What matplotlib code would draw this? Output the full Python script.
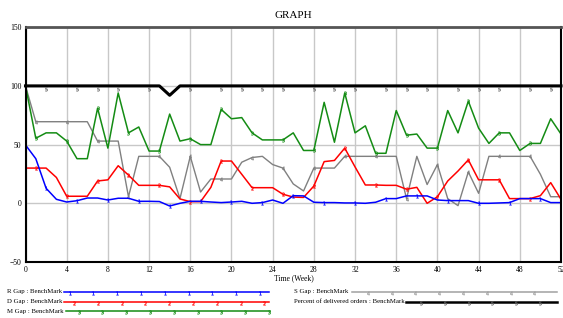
import numpy as np
import matplotlib.pyplot as plt
import matplotlib.transforms as mtransforms
from matplotlib.lines import Line2D

plt.rcParams['font.family'] = ['Liberation Serif', 'DejaVu Serif']

# ======================
# Data
# ======================
weeks = np.arange(0, 53)

r_gap = [49.7, 38, 12.8, 3.4, 1.1, 2.2, 4.5, 4.5, 2.8, 4.3, 4.3,
         1.7, 1.7, 1.5, -2.3, 0, 1.7, 1.7, 1.1, 0.6, 1.1,
         1.7, 0, 0.6, 2.8, 0, 6.5, 6.3, 0.9, 0.6, 0.6,
         0.3, 0.3, 0, 0.9, 4, 4, 6.3, 6.3, 6.3, 2.8,
         2.3, 2.3, 2.3, 0, 0, 0.3, 0.6, 4, 4, 4, 0.6, 0.6]

d_gap = [30, 30, 30, 22, 6, 6, 6, 19, 20, 32, 24,
         15.3, 15.3, 15.3, 14, 3.7, 1.4, 1.4, 13.6, 36, 36,
         24.7, 13.3, 13.3, 13.3, 7.7, 5.3, 5, 14.7, 35.5, 36.5,
         47, 31, 15.6, 15.6, 15.3, 15.3, 12, 13.6, 0, 5.6,
         19, 27.5, 37, 20, 20, 20, 4, 4, 4, 6.5, 17.6, 3.4]

m_gap = [100, 55.4, 60, 60, 53, 38, 38, 81, 47, 94, 60,
         65, 44.5, 44.5, 76, 53, 55, 50, 50, 80, 72,
         73, 60, 54, 54, 54, 60, 45, 45, 86, 52,
         94, 60, 66, 42.6, 42.6, 79, 58, 59, 47, 47,
         79, 60, 87, 64, 51, 60, 60, 45, 51, 51, 72, 59]

s_gap = [100, 69.5, 69.5, 69.5, 69.5, 69.5, 69.5, 53, 53, 53, 5.6,
         40, 40, 40, 30.7, 4, 40, 9.6, 20.7, 20.7, 20.7,
         35, 39, 40, 33, 30, 16.5, 10.5, 30, 30, 30,
         40, 40, 40, 40, 40, 40, 4, 40, 16, 33,
         4, -2, 26.7, 8.5, 40, 40, 40, 40, 40, 24.7, 5.6, 5.6]

delivered = [100] * 14 + [92] + [100] * 38

x_ticks = list(range(0, 53, 4))
y_ticks = [-50, 0, 50, 100, 150]

labels = ['R Gap : BenchMark', 'D Gap : BenchMark', 'M Gap : BenchMark',
          'S Gap : BenchMark', 'Percent of delivered orders : BenchMark']

# ======================
# Figure / axes
# ======================
W, H = 563, 318
fig = plt.figure(figsize=(W / 100, H / 100), dpi=100)

def px(x, y):
    return x / W, 1 - y / H

ax_l, ax_r, ax_t, ax_b = 25.5, 561, 27.2, 262
ax = fig.add_axes([ax_l / W, 1 - ax_b / H, (ax_r - ax_l) / W, (ax_b - ax_t) / H])
ax.set_xlim(0, 52)
ax.set_ylim(-50, 150)
ax.set_xticks(x_ticks)
ax.set_yticks(y_ticks)
ax.tick_params(length=0, labelsize=5.5, pad=3)
ax.grid(True, color='#c8c8c8', lw=1)
ax.set_axisbelow(True)
for side in ['left', 'bottom', 'right']:
    ax.spines[side].set_color('black')
    ax.spines[side].set_linewidth(1.5)
ax.spines['top'].set_color('#555555')
ax.spines['top'].set_linewidth(2)

mk = 2.6
ax.plot(weeks, s_gap, color='#808080', lw=1.0, marker='$4$', ms=mk, mew=0.2, markevery=(1, 3))
ax.plot(weeks, m_gap, color='#148c14', lw=1.1, marker='$3$', ms=mk, mew=0.2, markevery=(1, 3))
ax.plot(weeks, d_gap, color='#ff0000', lw=1.1, marker='$2$', ms=mk, mew=0.2, markevery=(1, 3))
ax.plot(weeks, r_gap, color='#0000ff', lw=1.1, marker='$1$', ms=mk, mew=0.2, markevery=(2, 3))
ax.plot(weeks, delivered, color='black', lw=2.2, clip_on=False)

# "5" labels sit just below the thick black line
below = mtransforms.offset_copy(ax.transData, fig=fig, y=-2.5, units='points')
five_at = [2, 5, 7, 9, 12, 16, 19, 21, 23, 25, 28, 30, 32, 35, 37, 39, 42, 44, 46, 49, 51]
ax.plot(weeks, delivered, ls='none', color='#666666', marker='$5$', ms=2.6, mew=0.2,
        markevery=five_at, transform=below)

fig.text(*px(293, 16), 'GRAPH', ha='center', va='center', fontsize=8)
fig.text(*px(294, 278), 'Time (Week)', ha='center', va='center', fontsize=5.5)

# ======================
# Legend (drawn by hand, Vensim style)
# ======================
legend_rows = [
    (labels[0], 7, 292, 64, 269, '#0000ff', '$1$', 1.1, 69.5),
    (labels[1], 7, 301.5, 64, 269, '#ff0000', '$2$', 1.1, 74),
    (labels[2], 7, 311, 66, 270, '#148c14', '$3$', 1.1, 78.5),
    (labels[3], 294, 292, 352, 557, '#a0a0a0', '$4$', 1.1, 367.7),
    (labels[4], 294, 301.5, 406, 557, 'black', '$5$', 1.8, 421),
]
for text, tx, ty, x0, x1, col, mark, lw, m0 in legend_rows:
    fig.text(*px(tx, ty), text, ha='left', va='center', fontsize=4.9)
    fx0, fy = px(x0, ty)
    fx1, _ = px(x1, ty)
    fig.add_artist(Line2D([fx0, fx1], [fy, fy], color=col, lw=lw,
                          transform=fig.transFigure))
    mx = np.arange(m0, x1, 23.8)
    fig.add_artist(Line2D(mx / W, np.full(len(mx), fy - 1.2 / H), ls='none',
                          color='#666666' if col == 'black' else col, marker=mark,
                          ms=2.6, mew=0.2, transform=fig.transFigure))

fig.savefig('out.png', dpi=100)
